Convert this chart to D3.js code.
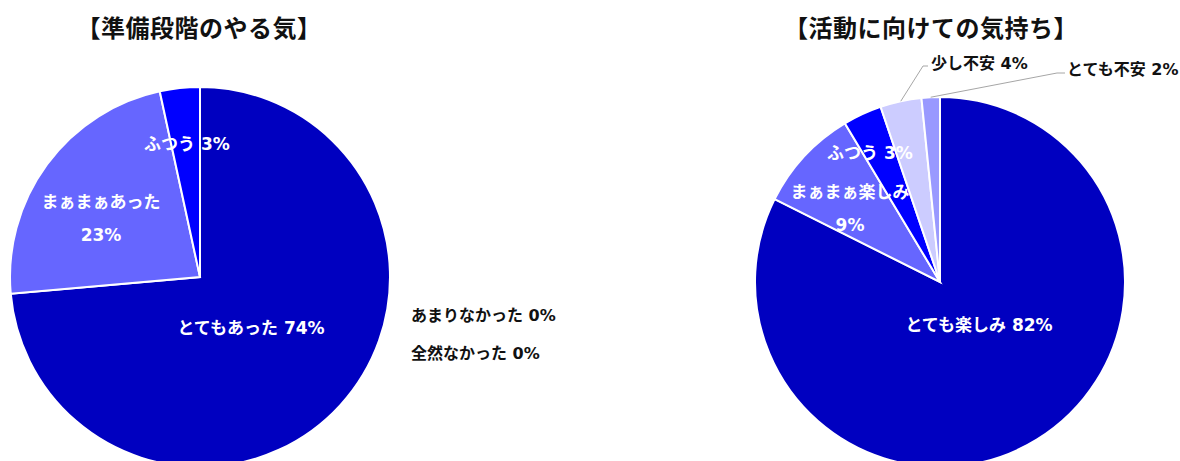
<!DOCTYPE html>
<html>
<head>
<meta charset="utf-8">
<script src="https://cdn.jsdelivr.net/npm/d3@7"></script>
<style>
  body { margin: 0; background: #fff; }
  text { font-family: "DejaVu Sans", "Noto Sans CJK JP", sans-serif; font-weight: 700; }
  text.title { font-family: "Noto Sans CJK JP", sans-serif; }
</style>
</head>
<body>
<div id="chart"></div>
<script>
// chart data
var prepCategories = ["とてもあった", "まぁまぁあった", "ふつう", "あまりなかった", "全然なかった"];
var prepValues = [73.6, 23.0, 3.4, 0, 0];
var prepColors = ["#0000C0", "#6666FF", "#0000FF", "#3333CC", "#9999FF"];

var feelCategories = ["とても楽しみ", "まぁまぁ楽しみ", "ふつう", "少し不安", "とても不安"];
var feelValues = [82.4, 9.0, 3.4, 3.6, 1.6];
var feelColors = ["#0000C0", "#6666FF", "#0000FF", "#CCCCFF", "#9999FF"];

var titles = ["【準備段階のやる気】", "【活動に向けての気持ち】"];

// canvas
var w = 1180, h = 461;
var svg = d3.select("#chart").append("svg")
    .attr("width", w)
    .attr("height", h);

var pie = d3.pie().sort(null).value(function(d) { return d.value; });

// label layout: offsets from pie centre, inside = white text, outside = black text
var prepLayout = {
  cx: 200, cy: 277, r: 190, titleX: 199,
  labels: [
    {dx: 51, dy: 51, lines: 1, inside: true},
    {dx: -99, dy: -59, lines: 2, inside: true},
    {dx: -13, dy: -133, lines: 1, inside: true},
    {dx: 211, dy: 38, lines: 1, inside: false, anchor: "start"},
    {dx: 211, dy: 76, lines: 1, inside: false, anchor: "start"}
  ]
};
var feelLayout = {
  cx: 940, cy: 282, r: 185, titleX: 931,
  labels: [
    {dx: 39, dy: 43, lines: 1, inside: true},
    {dx: -90, dy: -74, lines: 2, inside: true},
    {dx: -70, dy: -129, lines: 1, inside: true},
    {dx: -9, dy: -219, lines: 1, inside: false, anchor: "start", leader: [-17, -216, -12, -216]},
    {dx: 127, dy: -213, lines: 1, inside: false, anchor: "start", leader: [117, -209, 125, -209]}
  ]
};

function drawPie(categories, values, colors, title, lay) {
  var data = categories.map(function(c, i) { return {key: c, value: values[i], color: colors[i]}; });
  var arcs = pie(data);
  var arc = d3.arc().innerRadius(0).outerRadius(lay.r);

  var g = svg.append("g")
      .attr("transform", "translate(" + lay.cx + "," + lay.cy + ")");

  g.selectAll("path")
      .data(arcs.filter(function(d) { return d.data.value > 0; }))
      .enter()
      .append("path")
      .attr("d", arc)
      .style("fill", function(d) { return d.data.color; })
      .style("stroke", "#fff")
      .style("stroke-width", 2);

  // leader lines
  arcs.forEach(function(d, i) {
    var L = lay.labels[i];
    if (!L.leader) return;
    var mid = (d.startAngle + d.endAngle) / 2;
    var p0 = [lay.r * Math.sin(mid), -lay.r * Math.cos(mid)];
    g.append("polyline")
        .attr("points", [p0, [L.leader[0], L.leader[1]], [L.leader[2], L.leader[3]]].map(function(p) { return p.join(","); }).join(" "))
        .style("fill", "none")
        .style("stroke", "#A6A6A6")
        .style("stroke-width", 1);
  });

  // labels
  arcs.forEach(function(d, i) {
    var L = lay.labels[i];
    var pct = Math.round(d.data.value) + "%";
    var t = g.append("text")
        .attr("x", L.dx)
        .attr("y", L.dy)
        .attr("text-anchor", L.anchor || "middle")
        .style("font-size", L.inside ? "17px" : "16px")
        .style("fill", L.inside ? "#fff" : "#111");
    if (L.lines === 2) {
      t.append("tspan").attr("x", L.dx).attr("dy", "-0.6em").text(d.data.key);
      t.append("tspan").attr("x", L.dx).attr("dy", "1.95em").text(pct);
    } else {
      t.attr("dy", "0.35em").text(d.data.key + " " + pct);
    }
  });

  svg.append("text")
      .attr("class", "title")
      .attr("x", lay.titleX)
      .attr("y", 28)
      .attr("dy", "0.36em")
      .attr("text-anchor", "middle")
      .style("font-size", "24px")
      .style("letter-spacing", "0.5px")
      .style("fill", "#111")
      .text(title);
}

drawPie(prepCategories, prepValues, prepColors, titles[0], prepLayout);
drawPie(feelCategories, feelValues, feelColors, titles[1], feelLayout);
</script>
</body>
</html>
